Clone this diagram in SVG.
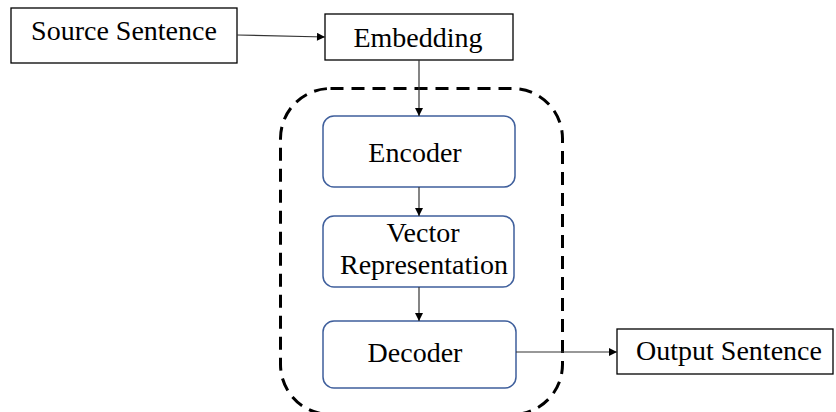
<svg xmlns="http://www.w3.org/2000/svg" width="836" height="412" viewBox="0 0 836 412">
<style>
.t{font-family:"Liberation Serif","Times New Roman",serif;font-size:28px;fill:#000}
.box{fill:#fff;stroke:#000;stroke-width:1.3}
.rbox{fill:#fff;stroke:#3f5f9c;stroke-width:1.5}
.edge{stroke:#333;stroke-width:1.2;fill:none}
</style>
<defs>
<marker id="ah" viewBox="0 0 10 10" refX="10" refY="5" markerWidth="9" markerHeight="8" markerUnits="userSpaceOnUse" orient="auto">
<path d="M0,0L10,5L0,10z" fill="#000"/>
</marker>
</defs>
<rect width="836" height="412" fill="#fff"/>
<g id="container">
<rect x="280.5" y="88.5" width="282" height="326" rx="50" ry="50" fill="none" stroke="#000" stroke-width="3" stroke-dasharray="13 8"/>
</g>
<g id="source">
<rect class="box" x="11" y="8" width="226" height="55"/>
<text class="t" x="124" y="40" text-anchor="middle">Source Sentence</text>
</g>
<g id="embedding">
<rect class="box" x="325" y="14" width="188" height="46"/>
<text class="t" x="418" y="47" text-anchor="middle">Embedding</text>
</g>
<g id="encoder">
<rect class="rbox" x="323" y="116" width="192" height="71" rx="11"/>
<text class="t" x="415" y="162" text-anchor="middle">Encoder</text>
</g>
<g id="vector">
<rect class="rbox" x="323" y="216" width="191" height="71" rx="11"/>
<text class="t" x="423" y="242" text-anchor="middle">Vector</text>
<text class="t" x="424" y="274" text-anchor="middle">Representation</text>
</g>
<g id="decoder">
<rect class="rbox" x="323" y="321" width="193" height="67" rx="11"/>
<text class="t" x="415" y="362" text-anchor="middle">Decoder</text>
</g>
<g id="output">
<rect class="box" x="617" y="329" width="216" height="45"/>
<text class="t" x="729" y="360" text-anchor="middle">Output Sentence</text>
</g>
<g id="connectors">
<path class="edge" d="M237,35L325,37" marker-end="url(#ah)"/>
<path class="edge" d="M419,60L419,116" marker-end="url(#ah)"/>
<path class="edge" d="M419,187L419,216" marker-end="url(#ah)"/>
<path class="edge" d="M419,287L419,321" marker-end="url(#ah)"/>
<path class="edge" d="M516,352L617,352" marker-end="url(#ah)"/>
</g>
</svg>
